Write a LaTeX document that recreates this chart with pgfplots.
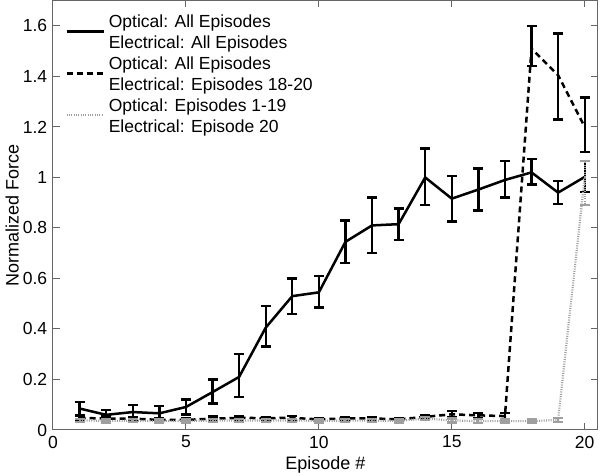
\documentclass[border=0pt]{standalone}
\usepackage{pgfplots}
\pgfplotsset{compat=1.18}
\usepackage{pgfplotstable}
\usepackage{fontspec}
\setmainfont{Liberation Sans}

\pgfplotstableread{
x y ep em
1 0.085 0.025 0.027
2 0.060 0.020 0.015
3 0.071 0.029 0.029
4 0.066 0.028 0.026
5 0.091 0.030 0.030
6 0.150 0.050 0.045
7 0.210 0.090 0.080
8 0.405 0.085 0.075
9 0.530 0.070 0.070
10 0.545 0.065 0.060
11 0.745 0.085 0.085
12 0.810 0.110 0.110
13 0.815 0.062 0.062
14 1.000 0.114 0.110
15 0.916 0.090 0.090
16 0.952 0.083 0.083
17 0.990 0.074 0.070
18 1.020 0.052 0.048
19 0.940 0.045 0.046
20 1.002 0.063 0.060
}\solid

\pgfplotstableread{
x y ep em
1 0.048 0.012 0.012
2 0.045 0.008 0.008
3 0.045 0.006 0.006
4 0.040 0.008 0.008
5 0.040 0.006 0.006
6 0.045 0.008 0.008
7 0.048 0.006 0.006
8 0.047 0.005 0.005
9 0.048 0.008 0.008
10 0.042 0.004 0.004
11 0.046 0.004 0.004
12 0.046 0.004 0.004
13 0.042 0.003 0.003
14 0.052 0.006 0.006
15 0.062 0.012 0.012
16 0.058 0.010 0.010
17 0.055 0.012 0.012
18 1.510 0.090 0.070
19 1.405 0.165 0.175
20 1.200 0.116 0.100
}\dashed

\pgfplotstableread{
x y ep em
1 0.038 0.006 0.006
2 0.036 0.006 0.006
3 0.037 0.006 0.006
4 0.035 0.006 0.006
5 0.036 0.006 0.006
6 0.037 0.006 0.006
7 0.038 0.006 0.006
8 0.037 0.006 0.006
9 0.038 0.006 0.006
10 0.036 0.006 0.006
11 0.037 0.006 0.006
12 0.037 0.006 0.006
13 0.036 0.006 0.006
14 0.045 0.006 0.006
15 0.038 0.008 0.008
16 0.035 0.008 0.008
17 0.035 0.006 0.006
18 0.035 0.006 0.006
19 0.040 0.008 0.008
20 1.000 0.065 0.110
}\dotted

\begin{document}
\begin{tikzpicture}
\begin{axis}[
  scale only axis,
  width=327pt, height=257.6pt,
  at={(0,0)}, anchor=south west,
  xmin=0, xmax=20.5, ymin=0, ymax=1.7,
  xtick={0,5,10,15,20},
  ytick={0,0.2,0.4,0.6,0.8,1,1.2,1.4,1.6},
  tick align=inside, tick pos=both,
  major tick length=4pt,
  axis line style={gray!80!black, line width=0.6pt},
  every tick/.style={gray!80!black, line width=0.6pt},
  /pgf/number format/assume math mode=true,
  tick label style={font=\fontsize{10.5}{12.6}\selectfont},
  label style={font=\fontsize{10.8}{12.6}\selectfont},
  xlabel={Episode \#},
  ylabel={Normalized Force},
  xlabel style={at={(axis description cs:0.5,-0.082)}, anchor=center},
  ylabel style={at={(axis description cs:-0.075,0.5)}, anchor=center},
  legend style={at={(axis description cs:0.022,0.9733)}, anchor=north west,
    draw=none, fill=none, row sep=0pt, column sep=2.4pt, inner sep=0pt,
    font=\fontsize{10.5}{12.6}\selectfont,
    nodes={inner sep=0pt, text height=8.8pt, text depth=3.8pt}},
  legend cell align=left,
  legend image code/.code={\draw[#1] (0cm,-5.0pt) -- (0.78cm,-5.0pt);},
  error bars/error mark options={rotate=90, mark size=3pt, line width=1.4pt},
]
\addplot[black, line width=1.5pt, mark=none, forget plot,
  error bars/.cd, y dir=both, y explicit, error bar style={solid, line width=1.4pt}]
  table[x=x, y=y, y error plus=ep, y error minus=em] {\solid};
\addplot[black, line width=1.5pt, dash pattern=on 3.6pt off 2.4pt, mark=none, forget plot,
  error bars/.cd, y dir=both, y explicit, error bar style={solid, line width=1.4pt}]
  table[x=x, y=y, y error plus=ep, y error minus=em] {\dashed};
\addplot[gray!75, line width=1.3pt, dash pattern=on 0.6pt off 0.8pt, mark=none, forget plot,
  error bars/.cd, y dir=both, y explicit, error bar style={line width=1.2pt}]
  table[x=x, y=y, y error plus=ep, y error minus=em] {\dotted};

\addlegendimage{black, line width=1.5pt}
\addlegendentry{Optical: All Episodes}
\addlegendimage{legend image code/.code={}}
\addlegendentry{Electrical: All Episodes}
\addlegendimage{black, line width=1.5pt, dash pattern=on 3.6pt off 2.4pt}
\addlegendentry{Optical: All Episodes}
\addlegendimage{legend image code/.code={}}
\addlegendentry{Electrical: Episodes 18-20}
\addlegendimage{gray!75, line width=1.3pt, dash pattern=on 0.6pt off 0.8pt}
\addlegendentry{Optical: Episodes 1-19}
\addlegendimage{legend image code/.code={}}
\addlegendentry{Electrical: Episode 20}
\end{axis}
\pgfresetboundingbox
\path (-31.8pt,-27.6pt) rectangle (328.2pt,258pt);
\end{tikzpicture}
\end{document}
